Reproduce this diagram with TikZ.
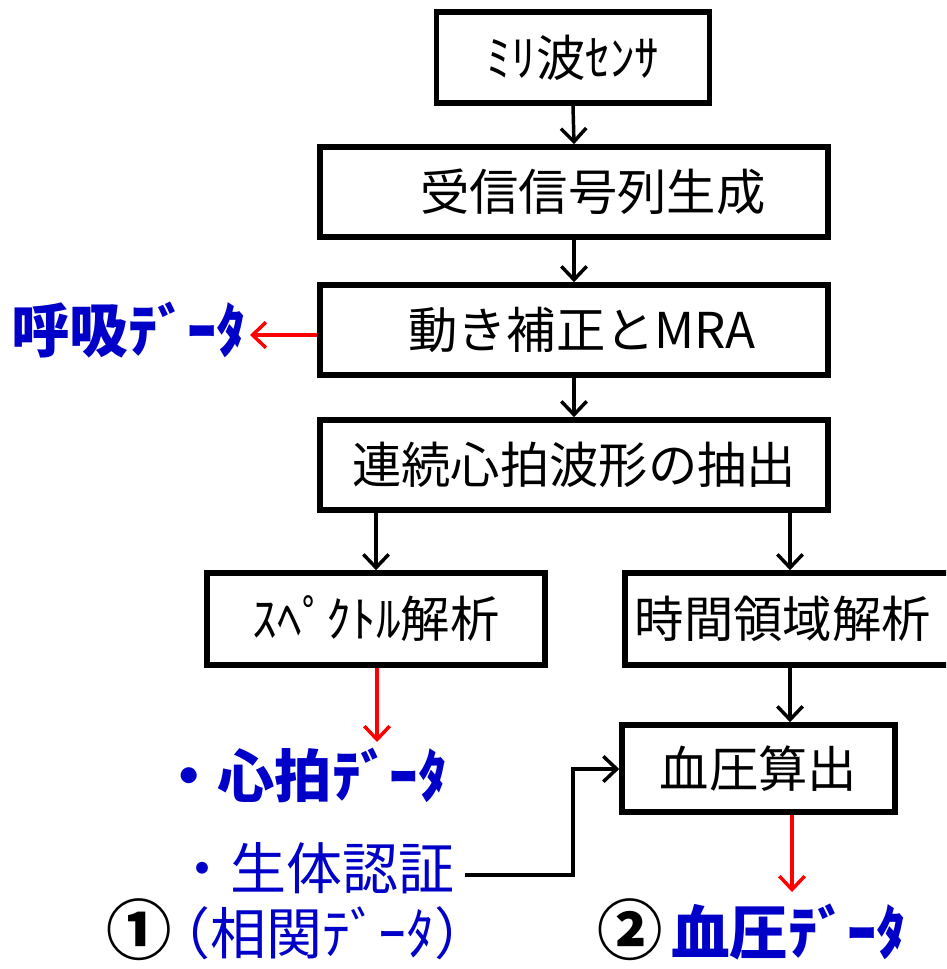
\documentclass[tikz,border=0pt]{standalone}
\usepackage{fontspec}
\setmainfont{Noto Sans CJK JP}
\usetikzlibrary{arrows.meta,calc}
\definecolor{dblue}{RGB}{0,0,200}
\definecolor{bred}{RGB}{255,0,0}
\tikzset{
  stepbox/.style={draw=black, line width=4.2pt, fill=white, inner sep=0pt, align=center, font=\fontsize{37}{40}\selectfont},
  arr/.style={line width=2.6pt, -{Straight Barb[length=10pt,width=19pt,line width=2.6pt]}},
  rarr/.style={arr, draw=bred},
  bluetxt/.style={text=dblue, inner sep=0pt, text height=0.8em, text depth=0.1em, font=\fontsize{42}{46}\selectfont},
  numtxt/.style={text=black, inner sep=0pt, text height=0.8em, text depth=0.1em, font=\fontsize{49}{50}\selectfont\bfseries},
}
\begin{document}
\begin{tikzpicture}[x=0.75pt,y=-0.75pt]
\clip (0,0) rectangle (946,969);
\fill[white] (0,0) rectangle (946,969);
\node[stepbox, minimum width=273*0.75pt, minimum height=91*0.75pt] (b1) at (573,57.5) {ﾐﾘ波ｾﾝｻ};
\node[stepbox, minimum width=508*0.75pt, minimum height=90*0.75pt] (b2) at (574,192) {\hspace{28pt}受信信号列生成};
\node[stepbox, minimum width=508*0.75pt, minimum height=90*0.75pt] (b3) at (574,330) {\hspace{12pt}動き補正とMRA};
\node[stepbox, minimum width=508*0.75pt, minimum height=90*0.75pt] (b4) at (574,465) {連続心拍波形の抽出};
\node[stepbox, minimum width=338*0.75pt, minimum height=92*0.75pt] (b5) at (376,619) {ｽﾍﾟｸﾄﾙ解析};
\node[stepbox, minimum width=326*0.75pt, minimum height=92*0.75pt] (b6) at (788,619) {\hspace{-4pt}時間領域解析\hspace{4pt}};
\node[stepbox, minimum width=273*0.75pt, minimum height=87*0.75pt] (b7) at (758.5,768.5) {血圧算出};

\node[bluetxt, font=\fontsize{44}{48}\selectfont\bfseries, anchor=east] (breath) at (246,348) {呼吸ﾃﾞｰﾀ};
\node[bluetxt, font=\fontsize{43}{46}\selectfont\bfseries, anchor=west] (heart) at (160,793) {・心拍ﾃﾞｰﾀ};
\node[bluetxt, anchor=west] (auth) at (174,885) {・生体認証};
\node[numtxt, anchor=west] (n1) at (106,950) {①};
\node[bluetxt, anchor=west, font=\fontsize{42}{46}\selectfont\addfontfeature{RawFeature=+halt}] (corr) at ([xshift=8pt]n1.east) {（相関ﾃﾞｰﾀ）};
\node[numtxt, anchor=west] (n2) at (597,950) {②};
\node[bluetxt, font=\fontsize{44}{46}\selectfont\bfseries, anchor=west] (bp) at ([xshift=6pt]n2.east) {血圧ﾃﾞｰﾀ};

\coordinate (hend) at (377,742);
\coordinate (bend) at (792,892);
\coordinate (brend) at (250,335);
\coordinate (jog) at (573,769);

\draw[arr] (b1.south) -- (b2.north);
\draw[arr] (b2.south) -- (b3.north);
\draw[arr] (b3.south) -- (b4.north);
\draw[arr] (b5.north |- b4.south) -- (b5.north);
\draw[arr] ([xshift=2*0.75pt]b6.north |- b4.south) -- ([xshift=2*0.75pt]b6.north);
\draw[arr] ([xshift=2*0.75pt]b6.south) -- ([xshift=2*0.75pt]b6.south |- b7.north);
\draw[rarr] (b5.south -| hend) -- (hend);
\draw[rarr] (b7.south -| bend) -- (bend);
\draw[rarr] (b3.west |- brend) -- (brend);
\draw[arr] ([xshift=10*0.75pt,yshift=10*0.75pt]auth.east) -| (jog) -- (b7.west |- jog);
\end{tikzpicture}
\end{document}
